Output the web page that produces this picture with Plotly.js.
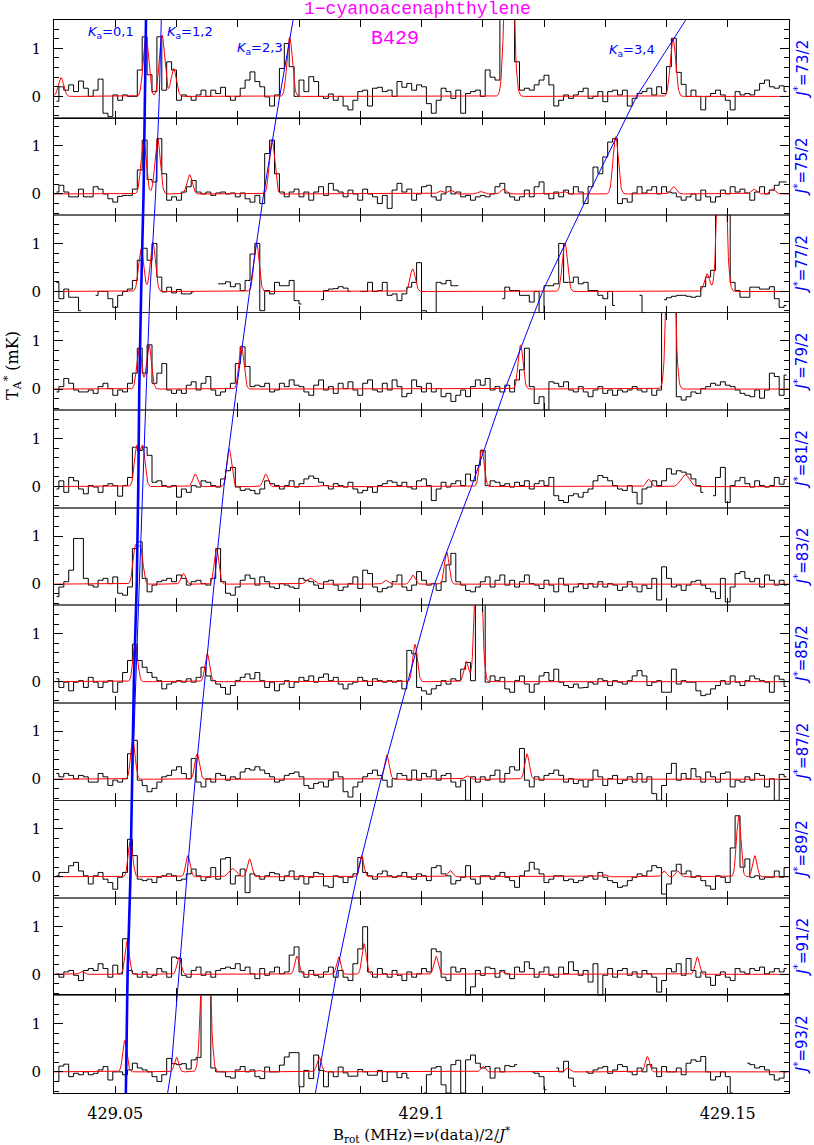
<!DOCTYPE html>
<html><head><meta charset="utf-8">
<script src="https://cdn.plot.ly/plotly-3.0.1.min.js"></script>
<style>html,body{margin:0;padding:0;background:#fff}#chart{width:814px;height:1145px}</style>
</head><body><div id="chart"></div>
<script>
// ---------- axis / grid ----------
const X_MIN = 429.04, X_MAX = 429.16;
const Y_MIN = -0.44, Y_MAX = 1.59;
const CHAN_START = 429.0404, CHAN_WIDTH = 0.0008;
const X_TICKVALS = [429.04,429.05,429.06,429.07,429.08,429.09,429.10,429.11,429.12,429.13,429.14,429.15,429.16];
const X_TICKTEXT = ['','429.05','','','','','429.1','','','','','429.15',''];
const Y_TICKVALS = [0,1];
const Y_TICKTEXT = ['0','1'];
const J_LABELS = ['73/2','75/2','77/2','79/2','81/2','83/2','85/2','87/2','89/2','91/2','93/2'];
const SIGMA = [0.00044,0.00043,0.00042,0.0004,0.00039,0.00038,0.00038,0.00037,0.00036,0.00035,0.00035];

// ---------- observed spectra (mK), one value per channel ----------
const obs73 = [-0.1,0.2,0.13,0.24,0.1,0.32,0.17,0,0.13,0.36,
-0.35,-0.42,0.03,-0.08,0.03,0,0,0.55,1.24,0.45,
0.1,1.24,0.13,0.72,0.55,-0.08,0.03,0,-0.08,0.03,
0.13,0,0.13,0.06,0.19,0,-0.08,0,0.17,0.34,
0.51,0.31,0.2,-0.01,-0.2,0.03,0.58,1.1,0.62,0,
0.34,0.1,0.41,0.31,0,-0.04,0.05,-0.08,0,-0.2,
-0.28,-0.08,0.1,0.13,-0.2,0.17,0.19,0.1,0.13,0,
0.31,0.19,0.27,0.13,0.24,0.2,-0.15,-0.35,-0.08,0.17,
0.1,-0.04,0.13,-0.35,0.06,0.1,0.13,0,0.55,0.4,
0.34,2.5,2.5,2.5,0.72,0.13,0.17,0.13,0.24,0.34,
0.44,0.24,-0.2,-0.08,0.03,-0.04,0.03,0.1,0.17,-0.04,
0,0.1,-0.11,0.1,0.13,0.03,0.13,-0.2,-0.04,0.06,
0.1,0.17,0.03,0.2,0.06,0.62,1.21,0.5,0.25,0,
0.13,0,-0.28,0,0.06,0.13,0.03,-0.08,-0.28,0.1,
0.03,0.06,0.03,0.13,0.27,0.34,0.2,0.17,0.22,0.1];

const obs75 = [0.04,0.18,0.04,-0.06,-0.06,0.1,-0.06,-0.06,0.15,0.1,
0,-0.1,-0.17,-0.05,-0.03,-0.03,0.1,0.5,1.12,0.3,
0.25,1.15,0.42,-0.13,-0.06,-0.13,0.04,0.15,0.28,0.04,
0,0.04,-0.03,0.02,0.04,0,0.02,-0.06,0.02,-0.1,
-0.17,-0.03,-0.2,0.84,1.12,0.42,0.04,-0.06,0.04,0.1,
-0.06,0.04,-0.13,0.04,0.15,-0.03,0.22,0.08,0.04,-0.06,
0.08,0,-0.13,0.1,0,-0.06,-0.2,-0.03,-0.3,0.08,
0.22,0.04,0.1,-0.13,0,0.15,0.18,-0.06,-0.13,0,
0.15,0,0.04,-0.06,-0.03,-0.13,-0.06,-0.03,-0.06,0,
0.15,0.22,0.02,-0.06,-0.13,-0.06,0.08,-0.06,0.15,0.25,
0,-0.1,0.04,-0.06,0.08,0,0.15,0.04,-0.2,0.15,
0.56,0.42,0.77,1.08,1.15,-0.2,-0.1,-0.17,0.02,0.15,
0.02,0.08,0.15,0,0.15,0.04,0.02,-0.06,-0.13,-0.06,
0,-0.13,0.08,-0.06,-0.17,-0.06,0.08,0,0.15,0.04,
0.1,0.02,-0.13,0.04,0.15,0,0.08,0.18,0.25,0.25];

const obs77 = [0.19,-0.15,0.05,-0.12,-0.12,-0.4,null,null,-0.08,0,
0,-0.15,-0.33,-0.08,0,0.05,0.23,0.65,0.9,0.65,
1.0,0.3,-0.01,0.09,-0.03,0.04,-0.05,-0.05,-0.01,null,
null,null,null,0.16,0.16,0.2,0.1,0.16,0.02,0.23,
0.78,1.0,-0.4,0.02,-0.05,0.19,0.12,0.12,0.23,-0.19,
-0.26,null,null,null,-0.17,0.02,0.05,0.06,0.1,0.07,
0,null,0,0,0.19,0,0.02,0.19,-0.08,-0.05,
-0.19,-0.05,0.09,0.19,0.6,-0.4,-0.44,-0.44,0.19,0.16,
0.23,0.12,0.12,null,null,null,0,null,null,null,
null,-0.15,0.09,0.02,0.02,-0.08,-0.08,-0.22,0,-0.44,
0.12,0.12,0.16,1.0,0.19,0.19,0.3,0.16,0.19,0.02,
0.02,-0.08,-0.15,0,-0.29,null,null,null,null,-0.08,
-0.44,null,null,null,-0.17,-0.13,-0.1,-0.08,-0.08,-0.1,
-0.12,-0.1,0.1,0.3,0.44,2.5,2.5,2.5,0.19,0.02,
-0.12,-0.12,0.09,0.09,0.05,0.05,0.1,-0.15,-0.33,-0.29];

const obs79 = [-0.06,0.05,0.22,0.12,-0.02,-0.06,-0.06,-0.02,-0.09,
0.05,0.12,0.01,-0.13,-0.02,-0.06,0.12,0.33,0.85,0.33,
0.92,0.12,0.33,0.53,-0.02,-0.09,-0.02,-0.09,0.08,0.15,
-0.02,0.12,0.26,-0.02,-0.13,-0.06,0.01,0.12,0.53,0.88,
0.47,0.05,0.08,0.05,0.12,-0.06,-0.02,0.12,0.05,0.19,
0.08,0.05,-0.06,-0.13,0.08,0.19,-0.02,0.05,-0.09,0.12,
0.01,0.15,-0.02,-0.13,0.12,0.19,-0.02,-0.06,0.12,-0.02,
0.19,0.05,-0.16,-0.09,0.19,0.05,-0.06,0.12,-0.06,0.01,
-0.16,-0.09,-0.26,-0.13,-0.02,-0.16,0.05,0.19,0.08,0.22,
-0.02,0.05,-0.06,0.08,-0.06,0.19,0.4,0.85,0.05,-0.3,
-0.16,-0.44,0.15,
0.12,0.05,0.15,-0.02,-0.06,0.05,
-0.06,-0.16,-0.02,0.05,-0.09,-0.02,-0.13,-0.02,-0.06,-0.02,
0.05,-0.02,-0.06,0.01,-0.13,-0.02,2.5,2.5,2.5,-0.16,
-0.23,-0.16,-0.06,-0.09,0.01,0.05,0.12,0.08,0.15,0.08,
0.05,-0.02,-0.09,-0.13,-0.16,-0.02,-0.19,-0.02,0.33,0.26,
-0.13,0.29];

const obs81 = [-0.05,0.12,-0.12,0.19,0.12,-0.05,-0.15,0.02,-0.01,
-0.12,0.02,0.06,0.02,-0.2,0.02,0.19,0.82,0.75,0.82,
0.65,0.09,0.12,0.02,-0.01,0.02,-0.22,-0.05,-0.12,0.02,
-0.01,0.12,0.09,0.02,-0.01,0.16,0.33,0.4,-0.01,-0.08,
-0.05,-0.08,-0.15,-0.05,0.12,0.06,0.02,-0.05,0.02,0.12,
-0.01,0.06,0.16,0.22,0.17,0.09,0.02,-0.05,0.06,0.02,
-0.01,0.09,-0.05,-0.13,-0.08,-0.01,-0.12,0.02,0.06,0.12,
0.09,0.02,0.09,-0.01,-0.05,0.12,0.16,0.02,-0.29,-0.05,
0.09,-0.01,0.06,0.12,0.02,0.26,0.12,0.44,0.75,0.02,
0.12,0.09,0.02,0.06,-0.01,0.09,0.02,0.12,-0.05,0.06,
0.12,0.02,0.19,
-0.19,-0.29,-0.33,-0.19,-0.15,-0.22,
-0.12,-0.05,0.12,0.23,0.19,0.12,0.02,-0.05,-0.08,0.02,
-0.12,-0.36,-0.05,-0.01,0.12,0.02,0.12,0.37,0.26,0.33,
0.3,0.26,0.16,0.02,-0.12,null,-0.19,0.19,0.4,-0.33,
0.02,0.12,0.19,0.06,-0.01,0.12,0.02,-0.01,0.02,0.19,
0.05,0.15];

const obs83 = [-0.26,-0.06,0.05,0.29,0.95,0.95,0.12,-0.02,-0.06,
0.08,0.12,0.01,0.15,-0.19,-0.23,-0.06,0.74,0.88,0.12,
-0.16,-0.02,0.05,0.08,0.12,0.05,0.19,0.12,-0.02,0.05,
0.08,0.01,-0.02,0.12,0.74,0.05,-0.19,-0.23,-0.06,0.08,
0.19,0.12,-0.02,0.15,0.05,-0.06,-0.09,0.01,-0.02,-0.06,
-0.09,0.12,0.08,0.05,-0.02,-0.09,0.05,0.08,-0.02,-0.13,
-0.06,0.01,0.15,-0.09,0.29,0.22,-0.06,-0.16,-0.09,-0.06,
0.05,0.19,-0.06,-0.13,-0.02,0.26,0.08,-0.02,0.01,-0.13,
0.05,0.4,0.64,0.05,-0.02,-0.13,-0.16,-0.06,0.05,0.15,
-0.06,0.08,0.19,-0.02,0.08,-0.06,0.05,0.19,0.01,-0.02,
-0.09,0.08,-0.02,-0.16,
0.12,-0.02,-0.16,-0.06,0.01,
-0.09,0.01,-0.06,0.05,-0.06,0.01,-0.02,-0.13,-0.06,0.05,
-0.06,-0.16,-0.02,-0.09,0.12,-0.33,0.36,0.12,-0.06,-0.02,
-0.13,-0.02,0.05,0.08,-0.02,-0.09,-0.16,-0.3,0.12,-0.37,
-0.06,0.22,0.26,0.12,0.05,0.12,-0.06,0.19,0.08,-0.02,
0.08,-0.02];

const obs85 = [0.06,-0.12,-0.01,-0.19,-0.01,0.02,-0.12,0.09,-0.01,
-0.12,-0.01,0.02,-0.22,-0.01,0.19,0.44,0.78,0.44,0.3,
0.19,0.09,0.02,-0.15,-0.05,-0.01,0.02,-0.01,0.06,-0.01,
0.09,0.3,0.12,0.02,-0.05,-0.12,-0.26,-0.08,0.02,0.09,
0.16,0.06,0.19,0.02,-0.12,-0.01,-0.19,-0.05,0.02,-0.12,
-0.01,0.09,0.02,0.12,-0.01,0.09,0.16,0.02,0.09,-0.05,
-0.15,-0.05,-0.01,0.09,0.02,-0.08,0.06,0.02,-0.01,0.02,
-0.01,0.02,-0.15,0.65,0.58,-0.12,-0.19,-0.26,-0.15,-0.08,
0.02,-0.05,0.06,0.02,0.26,0.4,0.02,2.5,2.5,-0.01,
0.12,0.02,0.09,-0.15,-0.22,0.02,0.12,-0.05,-0.22,-0.05,
0.12,0.19,0.02,0.26,-0.01,
-0.08,-0.12,-0.05,-0.13,
-0.12,-0.01,-0.05,0.06,0.02,-0.08,0.02,-0.01,-0.05,0.02,
0.12,0.23,0.12,-0.08,-0.01,0.02,-0.22,-0.22,0.26,-0.05,
0.02,-0.01,-0.01,-0.19,-0.29,-0.26,-0.15,-0.08,0.02,-0.05,
0.12,-0.01,-0.08,0.02,0.12,0.06,0.02,-0.01,-0.22,0.12,
0.05,-0.1];

const obs87 = [0.12,0.05,0.12,0.08,0.01,0.08,0.05,-0.06,-0.06,
0.12,0.05,-0.13,-0.02,-0.06,0.01,0.53,0.81,-0.02,-0.13,
-0.26,-0.19,-0.06,0.05,0.08,0.19,0.26,0.12,0.01,0.43,
-0.06,-0.16,0.01,-0.06,0.12,0.08,-0.02,0.05,0.01,0.15,
0.22,0.19,0.26,0.19,0.12,0.05,-0.06,-0.02,0.08,0.12,
0.15,0.05,-0.13,-0.19,-0.09,-0.06,-0.16,-0.02,0.15,0.05,
-0.26,-0.37,-0.16,-0.06,0.05,0.12,0.19,0.08,-0.02,-0.16,
0.01,0.12,0.08,-0.02,0.19,-0.02,0.12,0.05,0.19,-0.02,
0.08,0.12,-0.06,-0.16,-0.02,-0.44,0.05,-0.06,0.05,-0.02,
0.08,0.19,-0.06,0.12,0.26,0.19,0.64,-0.02,-0.16,0.05,
-0.02,0.08,0.12,
0.19,0.08,-0.06,0.01,-0.09,-0.02,
-0.16,-0.02,0.19,0.05,-0.13,0.01,0.08,-0.09,-0.02,0.05,
-0.06,0.12,-0.06,0.05,-0.3,-0.44,-0.13,0.12,0.33,-0.02,
0.12,0.01,0.22,0.05,-0.06,0.15,0.05,-0.06,0.12,0.15,
-0.16,-0.02,-0.06,0.05,-0.02,0.12,0.08,-0.16,0.01,-0.44,
0.1,0.05];

const obs89 = [0.02,0.09,0.09,0.23,0.3,0.12,0.02,-0.15,0.02,
0.09,-0.05,-0.12,-0.26,-0.01,0.09,0.78,0.44,-0.05,-0.08,
-0.05,-0.12,-0.01,0.02,0.06,0.02,-0.08,-0.05,0.06,0.16,
0.02,-0.08,-0.01,0.19,-0.05,0.37,0.4,-0.15,0.02,0.16,
-0.33,0.06,0.02,-0.05,0.02,0.09,0.06,-0.08,0.02,0.12,
-0.05,0.02,-0.15,-0.01,0.09,0.06,-0.19,-0.22,0.02,-0.01,
-0.12,-0.01,0.06,0.4,0.09,0.02,-0.05,0.06,0.12,0.02,
-0.01,0.02,0.09,-0.01,-0.05,0.06,0.02,-0.08,0.19,0.23,
0.06,0.02,-0.15,-0.08,-0.01,0.23,-0.05,-0.15,0.02,0.02,
-0.05,0.02,0.09,-0.01,-0.08,-0.22,0.02,0.12,0.3,0.16,
0.06,-0.12,-0.05,0.02,
0.02,-0.08,-0.05,-0.12,-0.08,
-0.01,0.02,-0.05,0.09,-0.01,-0.08,-0.12,-0.22,-0.19,-0.08,
-0.01,0.06,0.02,0.12,0.23,0.19,-0.36,-0.15,0.12,0.26,
0.06,0.12,-0.01,0.02,-0.08,-0.19,-0.26,0.02,-0.01,-0.12,
0.6,1.27,0.2,0.37,-0.01,0.02,-0.05,-0.01,-0.01,0.12,
-0.01,0.19];

const obs91 = [0.01,-0.06,0.05,0.08,-0.02,-0.13,0.08,0.12,0.08,
0.22,0.12,-0.06,0.19,0.01,0.74,0.08,0.01,-0.06,0.05,
-0.06,-0.02,0.12,0.05,-0.06,0.36,0.33,-0.02,-0.06,0.08,
0.15,-0.02,0.05,-0.06,0.08,0.12,0.15,0.12,0.22,0.08,
0.15,0.01,-0.09,0.12,-0.02,0.05,0.15,0.01,0.05,0.4,
0.57,0.05,-0.06,0.08,-0.02,-0.06,0.05,0.15,-0.06,0.08,
-0.06,-0.13,0.22,0.53,0.99,0.05,-0.06,0.12,0.01,-0.06,
0.08,-0.02,-0.13,0.05,-0.06,0.01,0.12,0.05,0.53,0.47,
-0.06,-0.13,0.15,0.05,0.12,-0.44,-0.26,0.08,-0.02,0.15,
0.12,-0.06,0.08,0.01,-0.09,0.15,0.05,0.26,0.12,-0.06,
0.05,0.15,-0.02,
-0.06,0.15,0.01,0.26,0.08,-0.02,
0.08,-0.16,0.22,-0.44,-0.02,0.12,-0.06,0.08,0.12,-0.02,
0.05,-0.06,0.08,0.01,-0.06,-0.37,-0.13,0.12,0.05,0.22,
-0.02,0.33,0.08,-0.06,0.05,-0.06,-0.23,-0.02,0.05,-0.06,
-0.13,0.12,0.05,0.01,0.12,0.08,0.15,0.01,0.05,0.12,
0.05,0.12];

const obs93 = [-0.2,0.12,0.16,-0.1,-0.03,-0.06,0,-0.06,-0.03,0.04,
0.11,-0.17,0,0,-0.06,0.04,0.18,0.08,0.04,0,
-0.1,-0.2,-0.06,0.28,0.17,0.15,0.17,0.06,0.25,0.3,
2.5,2.5,0.08,0,0,-0.1,-0.13,0.04,0.11,0,
0.04,-0.1,-0.14,0.1,0,0,0.14,0.31,0.4,0.4,
-0.31,0.03,-0.14,0.35,0.03,-0.31,0,-0.1,0.1,-0.02,
-0.09,-0.09,0.05,0,-0.07,-0.07,0.03,-0.2,0,0,
-0.12,-0.03,-0.13,null,null,-0.44,-0.06,0.08,0.11,-0.27,
-0.44,0.15,0.24,-0.44,0.25,0.35,0.18,0.08,0.11,-0.13,
0.08,0,0.13,0.11,0.15,null,null,0,-0.03,-0.1,
-0.37,null,0.08,0,0.22,-0.13,-0.3,null,0,-0.03,
0.04,0.08,0.11,-0.03,0.04,0.15,0.11,0,-0.06,0.08,
0,0.15,0.08,-0.1,0.11,0,0,0.08,-0.06,0.18,
0.25,0.22,0.32,0,-0.17,-0.1,0,-0.1,-0.44,null,
null,0.18,0.15,0.08,0.11,0.04,-0.06,-0.17,-0.13,0];

// ---------- model lines: [centre B_rot (MHz), peak (mK), optional width] ----------
const peaks73 = [[429.04113,0.39],[429.05502,1.26],[429.05763,1.28],[429.05953,0.58],[429.07848,1.23],[429.1143,5.7,0.00056],[429.14106,1.21]];
const peaks75 = [[429.05463,1.12],[429.05691,1.17],[429.06214,0.4],[429.0756,1.13],[429.1317,1.19],[429.10311,0.06],[429.10474,0.08],[429.10964,0.05],[429.1134,0.1],[429.1232,0.05],[429.14118,0.15],[429.15425,0.1],[429.15735,0.1]];
const peaks77 = [[429.05423,0.89],[429.05614,1.03],[429.07306,1.03],[429.09856,0.47],[429.12341,1.01],[429.14662,0.37],[429.14902,5.0,0.00055]];
const peaks79 = [[429.05392,0.85],[429.05551,0.92],[429.07059,0.9],[429.11618,0.92],[429.14069,5.5,0.00052]];
const peaks81 = [[429.05351,0.82],[429.05448,0.82],[429.06306,0.26],[429.06861,0.78],[429.07458,0.26],[429.08382,0.03,0.0006],[429.10984,0.78],[429.13709,0.15],[429.14304,0.25,0.0007]];
const peaks83 = [[429.05328,0.76],[429.05415,0.74],[429.06114,0.22],[429.06655,0.74],[429.08188,0.12,0.0006],[429.09418,0.08],[429.09856,0.19],[429.10412,0.67]];
const peaks85 = [[429.05328,0.78],[429.06503,0.58],[429.09895,0.78],[429.1073,0.42],[429.10928,4.0,0.00048]];
const peaks87 = [[429.05288,0.81],[429.06337,0.53],[429.09435,0.5],[429.10745,0.07],[429.11722,0.53]];
const peaks89 = [[429.05248,0.78],[429.06186,0.44],[429.06917,0.17,0.0006],[429.07194,0.37],[429.09021,0.44],[429.10467,0.13],[429.1299,0.04],[429.13963,0.12],[429.14185,0.12],[429.15178,1.27],[429.15441,0.44]];
const peaks91 = [[429.04454,0.06],[429.05193,0.69],[429.06042,0.36],[429.07966,0.38],[429.08649,0.36],[429.09062,0.64],[429.10237,0.38],[429.11309,0.06],[429.14503,0.36]];
const peaks93 = [[429.05157,0.66],[429.06,0.3],[429.06477,5.0,0.00055],[429.07346,0.03],[429.0833,0.31],[429.11004,0.12],[429.12381,0.08],[429.13688,0.32]];

// ---------- K_a ladders: B_rot at top edge, at each panel's zero line, at bottom edge ----------
const blueK01 = [429.05502,429.05485,429.05462,429.05423,429.05392,429.05376,429.05351,429.05304,429.05273,429.05248,429.05201,429.0518,429.05173];
const blueK12 = [429.05752,429.05719,429.05659,429.05567,429.05507,429.05448,429.05392,429.05327,429.05278,429.05245,429.05204,429.0518,429.05172];
const blueK23 = [429.07904,429.07685,429.07423,429.07194,429.0698,429.06775,429.06614,429.06464,429.06306,429.0617,429.06042,429.0591,429.05855];
const blueK34 = [429.14314,429.13513,429.12729,429.11977,429.11364,429.10817,429.10212,429.09776,429.0934,429.08943,429.0861,429.0833,429.08268];

// ---------- build ----------
const OBS = [obs73,obs75,obs77,obs79,obs81,obs83,obs85,obs87,obs89,obs91,obs93];
const PEAKS = [peaks73,peaks75,peaks77,peaks79,peaks81,peaks83,peaks85,peaks87,peaks89,peaks91,peaks93];
const NP = OBS.length;
const SERIF = 'DejaVu Serif', SANS = 'DejaVu Sans', MONO = 'Liberation Mono';
const BLUE = '#0000ff', MAGENTA = '#ff00ff';

const traces = [];
const layout = {
  width: 814, height: 1145,
  margin: {l: 54, r: 25, t: 20, b: 52, pad: 0},
  paper_bgcolor: '#ffffff', plot_bgcolor: 'rgba(0,0,0,0)',
  showlegend: false,
  font: {family: SERIF, color: '#000'},
  annotations: []
};

for (let k = 0; k < NP; k++) {
  const id = k === 0 ? '' : String(k + 1);
  const xa = 'x' + id, ya = 'y' + id;
  const obs = OBS[k];
  const xs = obs.map((_, i) => CHAN_START + i * CHAN_WIDTH);
  traces.push({type: 'scatter', mode: 'lines', x: xs, y: obs, xaxis: xa, yaxis: ya,
    line: {color: '#000', width: 1, shape: 'hvh'}, connectgaps: false, hoverinfo: 'skip'});
  // model profile
  const mx = [], my = [];
  const nGrid = Math.round((X_MAX - X_MIN) / 0.0001);
  for (let n = 0; n <= nGrid; n++) {
    const x = X_MIN + n * 0.0001;
    let y = 0;
    for (const p of PEAKS[k]) {
      const s = p[2] || SIGMA[k];
      y += p[1] * Math.exp(-0.5 * Math.pow((x - p[0]) / s, 2));
    }
    mx.push(x); my.push(y);
  }
  traces.push({type: 'scatter', mode: 'lines', x: mx, y: my, xaxis: xa, yaxis: ya,
    line: {color: '#ff0000', width: 1}, hoverinfo: 'skip'});

  const bottom = k === NP - 1;
  layout['xaxis' + id] = {
    domain: [0, 1], anchor: ya, range: [X_MIN, X_MAX],
    tickmode: 'array', tickvals: X_TICKVALS, ticktext: X_TICKTEXT,
    showticklabels: bottom, ticks: 'inside', ticklen: 7, tickwidth: 1, tickcolor: '#000',
    showline: true, linecolor: '#000', linewidth: (k === 0 || bottom) ? 1 : 0.6, mirror: 'ticks',
    showgrid: false, zeroline: false, ticklabelstandoff: 6,
    tickfont: {family: SERIF, size: 16, color: '#000'}
  };
  layout['yaxis' + id] = {
    domain: [1 - (k + 1) / NP, 1 - k / NP], anchor: xa, range: [Y_MIN, Y_MAX],
    tickmode: 'array', tickvals: Y_TICKVALS, ticktext: Y_TICKTEXT,
    ticks: 'inside', ticklen: 9, tickwidth: 1, tickcolor: '#000',
    minor: {tickmode: 'linear', tick0: 0, dtick: 0.2, ticks: 'inside', ticklen: 5, tickcolor: '#000', showgrid: false},
    showline: true, linecolor: '#000', linewidth: 1, mirror: 'ticks',
    showgrid: false, zeroline: false, ticklabelstandoff: 9,
    tickfont: {family: SERIF, size: 15, color: '#000'}
  };
  layout.annotations.push({
    text: '<i>J</i><sup>*</sup>=' + J_LABELS[k], xref: 'paper', yref: 'paper',
    x: 1.0163, y: 1 - (k + 0.5) / NP, textangle: -90, showarrow: false,
    xanchor: 'center', yanchor: 'middle', font: {family: SANS, size: 15, color: BLUE}
  });
}

// overlay axes spanning all panels for the K_a ladders
const zeroFrac = Y_MAX / (Y_MAX - Y_MIN);
const levels = [0];
for (let k = 0; k < NP; k++) levels.push(k + zeroFrac);
levels.push(NP);
layout.xaxis12 = {domain: [0, 1], range: [X_MIN, X_MAX], anchor: 'y12', visible: false, showgrid: false, zeroline: false};
layout.yaxis12 = {domain: [0, 1], range: [NP, 0], anchor: 'x12', visible: false, showgrid: false, zeroline: false};
const ladders = [[blueK01, 2.6], [blueK12, 1], [blueK23, 1], [blueK34, 1]];
for (const [arr, w] of ladders) {
  traces.push({type: 'scatter', mode: 'lines', x: arr, y: levels, xaxis: 'x12', yaxis: 'y12',
    line: {color: BLUE, width: w}, hoverinfo: 'skip'});
}

// texts
const ann = layout.annotations;
ann.push({text: '1\u2212cyanoacenaphthylene', xref: 'paper', yref: 'paper', x: 0.494, y: 1.0103,
  showarrow: false, xanchor: 'center', yanchor: 'middle', font: {family: MONO, size: 18, color: MAGENTA}});
ann.push({text: 'B429', xref: 'paper', yref: 'paper', x: 0.464, y: 0.983,
  showarrow: false, xanchor: 'center', yanchor: 'middle', font: {family: MONO, size: 20, color: MAGENTA}});
const kaLabels = [['0,1', 0.0769, 0.9879], ['1,2', 0.1857, 0.9888], ['2,3', 0.2803, 0.9739], ['3,4', 0.787, 0.972]];
for (const [t, x, y] of kaLabels) {
  ann.push({text: '<i>K</i><sub>a</sub>=' + t, xref: 'paper', yref: 'paper', x: x, y: y,
    showarrow: false, xanchor: 'center', yanchor: 'middle', font: {family: SANS, size: 13, color: BLUE}});
}
ann.push({text: 'T<sub>A</sub><sup>*</sup> (mK)', xref: 'paper', yref: 'paper', x: -0.0571, y: 0.6775,
  textangle: -90, showarrow: false, xanchor: 'center', yanchor: 'middle', font: {family: SERIF, size: 16, color: '#000'}});
ann.push({text: 'B<sub>rot</sub> (MHz)=\u03bd(data)/2/<i>J</i><sup>*</sup>', xref: 'paper', yref: 'paper', x: 0.5007, y: -0.0385,
  showarrow: false, xanchor: 'center', yanchor: 'middle', font: {family: SERIF, size: 15, color: '#000'}});

Plotly.newPlot('chart', traces, layout, {staticPlot: true, displayModeBar: false});
</script>
</body></html>
